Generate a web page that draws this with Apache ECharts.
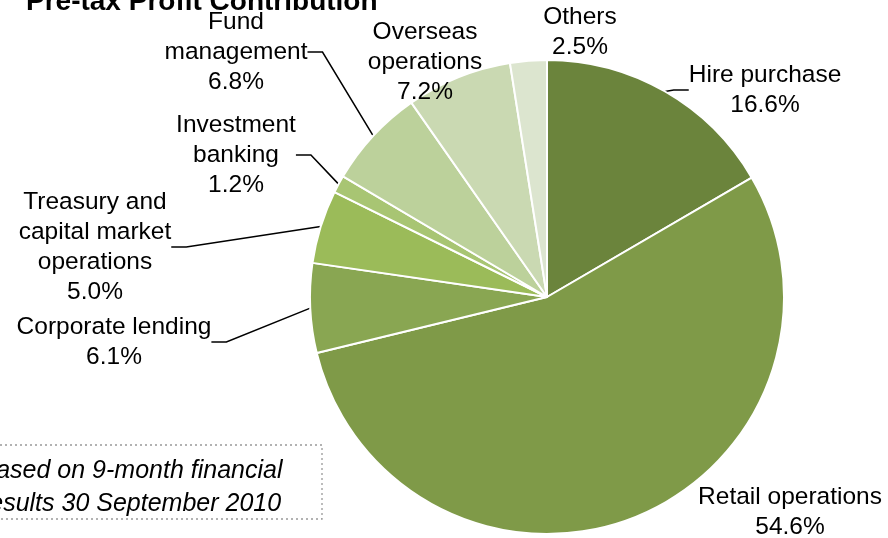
<!DOCTYPE html>
<html>
<head>
<meta charset="utf-8">
<script src="https://cdn.jsdelivr.net/npm/echarts@6/dist/echarts.min.js"></script>
<style>
html,body{margin:0;padding:0;background:#fff;}
#c{width:888px;height:538px;}
</style>
</head>
<body>
<div id="c"></div>
<script>
var categories = ['Hire purchase', 'Retail operations', 'Corporate lending', 'Treasury and\ncapital market\noperations', 'Investment\nbanking', 'Fund\nmanagement', 'Overseas\noperations', 'Others'];
var values = [16.6, 54.6, 6.1, 5.0, 1.2, 6.8, 7.2, 2.5];
var colors = ['#6b843c', '#7f9a48', '#89a652', '#9bbb59', '#a8c573', '#bcd19b', '#cad9b2', '#dce5cf'];
var labelCenters = [[765, 90], [790, 512], [114, 342], [95, 247], [236, 155], [236, 52], [425, 62], [580, 32]];
var showLines = [true, false, true, true, true, true, false, false];
var titleText = 'Pre-tax Profit Contribution';
var noteText = 'Based on 9-month financial\nresults 30 September 2010';

var chart = echarts.init(document.getElementById('c'));
var data = categories.map(function (c, i) {
  return {
    name: c,
    value: values[i],
    itemStyle: { color: colors[i] },
    labelLine: { show: showLines[i] }
  };
});
chart.setOption({
  animation: false,
  graphic: [
    {
      type: 'text', left: 26, top: -12,
      style: { text: titleText, font: 'bold 28px "Liberation Sans", Arial, sans-serif', fill: '#000' }
    },
    {
      type: 'rect', shape: { x: -80, y: 445, width: 402, height: 74 },
      style: { fill: 'none', stroke: '#999', lineWidth: 1.3, lineDash: [2, 3] }
    },
    {
      type: 'text', x: 131, y: 488,
      style: { text: noteText, font: 'italic 25px "Liberation Sans", Arial, sans-serif', fill: '#000', align: 'center', verticalAlign: 'middle', lineHeight: 33 }
    }
  ],
  series: [{
    type: 'pie',
    center: [547, 297],
    radius: 237,
    startAngle: 90,
    clockwise: true,
    data: data,
    itemStyle: { borderColor: '#fff', borderWidth: 2 },
    label: {
      show: true,
      formatter: function (p) { return p.name + '\n' + p.value.toFixed(1) + '%'; },
      fontFamily: '"Liberation Sans", Arial, sans-serif',
      fontSize: 24.5,
      lineHeight: 30,
      color: '#000',
      align: 'center'
    },
    labelLine: { show: true, length: 20, length2: 15, lineStyle: { color: '#000', width: 1.5 } },
    labelLayout: function (p) {
      var c = labelCenters[p.dataIndex];
      return { x: c[0], y: c[1], align: 'center', verticalAlign: 'middle' };
    }
  }]
});
</script>
</body>
</html>
